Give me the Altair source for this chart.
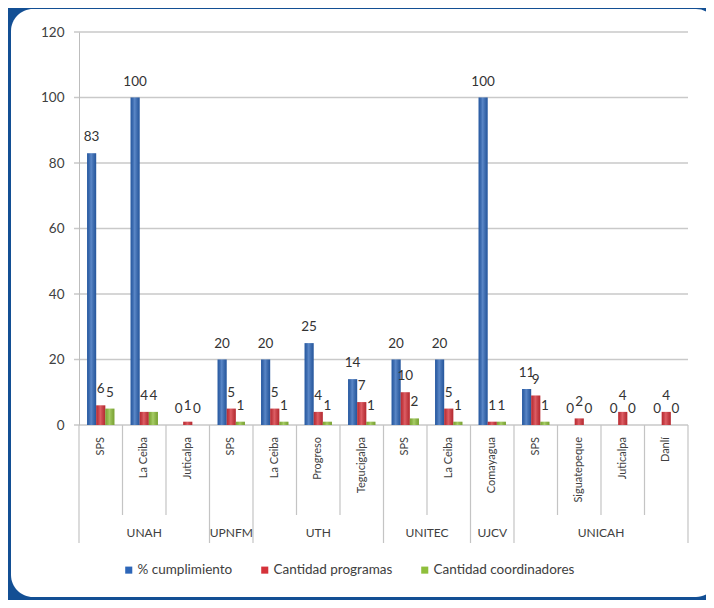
import altair as alt
import pandas as pd

# ---- data ----
universities = ["UNAH", "UNAH", "UNAH", "UPNFM", "UTH", "UTH", "UTH",
                "UNITEC", "UNITEC", "UJCV", "UNICAH", "UNICAH", "UNICAH", "UNICAH"]
campuses = ["SPS", "La Ceiba", "Juticalpa", "SPS", "La Ceiba", "Progreso", "Tegucigalpa",
            "SPS", "La Ceiba", "Comayagua", "SPS", "Siguatepeque", "Juticalpa", "Danlí"]
cumplimiento = [83, 100, 0, 20, 20, 25, 14, 20, 20, 100, 11, 0, 0, 0]
programas = [6, 4, 1, 5, 5, 4, 7, 10, 5, 1, 9, 2, 4, 4]
coordinadores = [5, 4, 0, 1, 1, 1, 1, 2, 1, 1, 1, 0, 0, 0]
series_names = ["% cumplimiento", "Cantidad programas", "Cantidad coordinadores"]
series_colors = ["#2d66b8", "#d5323a", "#8fbf3c"]
y_ticks = [0, 20, 40, 60, 80, 100, 120]

# ---- derived tables ----
W, H = 609, 393
n = len(campuses)
ux = n / W          # data units per pixel (x)
uy = 120 / H        # data units per pixel (y)
bw = 0.21
offsets = [-0.21, 0.0, 0.21]
rows = []
for i in range(n):
    for s, vals, off in zip(series_names, [cumplimiento, programas, coordinadores], offsets):
        rows.append({"idx": i, "serie": s, "valor": vals[i], "base": 0,
                     "xc": i + off, "x0": i + off - bw / 2, "x1": i + off + bw / 2})
bars = pd.DataFrame(rows)

cats = pd.DataFrame({"idx": list(range(n)), "campus": campuses, "uni": universities,
                     "ylab": [-12 * uy] * n})

grp_rows = []
start = 0
for i in range(1, n + 1):
    if i == n or universities[i] != universities[start]:
        grp_rows.append({"uni": universities[start], "mid": (start + i - 1) / 2,
                         "b0": start - 0.5, "b1": i - 0.5, "ylab": -108 * uy})
        start = i
groups = pd.DataFrame(grp_rows)
long_bounds = sorted(set(groups["b0"]).union(groups["b1"]))
short_bounds = [i + 0.5 for i in range(n - 1) if (i + 0.5) not in long_bounds]
long_df = pd.DataFrame({"b": long_bounds, "y0": 0.0, "y1": -118 * uy})
short_df = pd.DataFrame({"b": short_bounds, "y0": 0.0, "y1": -90 * uy})
grid_df = pd.DataFrame({"t": y_ticks})

panel_df = pd.DataFrame({
    "px0": [-0.5 - 68 * ux], "px1": [-0.5 + (W + 30) * ux],
    "py0": [120 + 23 * uy], "py1": [-(172) * uy],
})

FONT = "Lato"
TXT = "#404040"
xscale = alt.Scale(domain=[-0.5, n - 0.5], nice=False, zero=False)
yscale = alt.Scale(domain=[0, 120], nice=False, zero=False)
yaxis = alt.Axis(values=y_ticks, ticks=False, domain=True, domainColor="#bdbdbd",
                 grid=False, labelFont=FONT, labelFontSize=13.5, labelColor=TXT,
                 labelPadding=15, title=None, zindex=1)

panel = alt.Chart(panel_df).mark_rect(fill="white", cornerRadius=22).encode(
    x=alt.X("px0:Q", scale=xscale, axis=None), x2="px1:Q",
    y=alt.Y("py0:Q", scale=yscale, axis=yaxis), y2="py1:Q",
)

grid = alt.Chart(grid_df).mark_rule(color="#c9c9c9", strokeWidth=1.5).encode(
    y=alt.Y("t:Q", scale=yscale, axis=yaxis),
    x=alt.value(-5), x2=alt.value(W),
)

short_rules = alt.Chart(short_df).mark_rule(color="#c4c4c4", strokeWidth=1.2).encode(
    x=alt.X("b:Q", scale=xscale, axis=None),
    y=alt.Y("y0:Q", scale=yscale, axis=yaxis), y2="y1:Q")
long_rules = alt.Chart(long_df).mark_rule(color="#c4c4c4", strokeWidth=1.2).encode(
    x=alt.X("b:Q", scale=xscale, axis=None),
    y=alt.Y("y0:Q", scale=yscale, axis=yaxis), y2="y1:Q")

bar = alt.Chart(bars).mark_bar().encode(
    x=alt.X("x0:Q", scale=xscale, axis=None),
    x2="x1:Q",
    y=alt.Y("valor:Q", scale=yscale, axis=yaxis),
    y2="base:Q",
    color=alt.Color("serie:N",
                    scale=alt.Scale(domain=series_names, range=series_colors),
                    legend=alt.Legend(orient="none", direction="horizontal", title=None,
                                      legendX=43, legendY=531, symbolType="square",
                                      symbolSize=50, symbolStrokeWidth=0,
                                      labelFont=FONT, labelFontSize=13.5, labelColor=TXT,
                                      labelOffset=2, columnPadding=25, zindex=1)),
)

# subtle cylindrical sheen like the original's 3-D bar fill
sheen = alt.Chart(bars).mark_bar(
    fill=alt.Gradient(
        gradient="linear", x1=0, x2=1, y1=0, y2=0,
        stops=[alt.GradientStop(offset=0, color="rgba(0,0,0,0.12)"),
               alt.GradientStop(offset=0.45, color="rgba(255,255,255,0.22)"),
               alt.GradientStop(offset=1, color="rgba(0,0,0,0.15)")],
    )
).encode(
    x=alt.X("x0:Q", scale=xscale, axis=None), x2="x1:Q",
    y=alt.Y("valor:Q", scale=yscale, axis=yaxis), y2="base:Q",
)

labels = alt.Chart(bars).mark_text(
    baseline="bottom", dy=-9, font=FONT, fontSize=13.5, color="#333333"
).encode(x=alt.X("xc:Q", scale=xscale, axis=None),
         y=alt.Y("valor:Q", scale=yscale, axis=yaxis), text="valor:Q")

campus_text = alt.Chart(cats).mark_text(
    angle=270, align="right", baseline="middle", font=FONT, fontSize=11, color=TXT
).encode(x=alt.X("idx:Q", scale=xscale, axis=None),
         y=alt.Y("ylab:Q", scale=yscale, axis=yaxis), text="campus:N")

uni_text = alt.Chart(groups).mark_text(
    align="center", baseline="middle", font=FONT, fontSize=12, color=TXT
).encode(x=alt.X("mid:Q", scale=xscale, axis=None),
         y=alt.Y("ylab:Q", scale=yscale, axis=yaxis), text="uni:N")

chart = alt.layer(
    panel, grid, short_rules, long_rules, bar, sheen, labels, campus_text, uni_text
).properties(
    width=W, height=H,
    autosize=alt.AutoSizeParams(type="none"),
    padding={"left": 71, "top": 24, "right": 18, "bottom": 175},
    background="#134f94",
).configure_view(strokeWidth=0)

chart.save("out.html", embed_options={"renderer": "svg", "actions": False})
